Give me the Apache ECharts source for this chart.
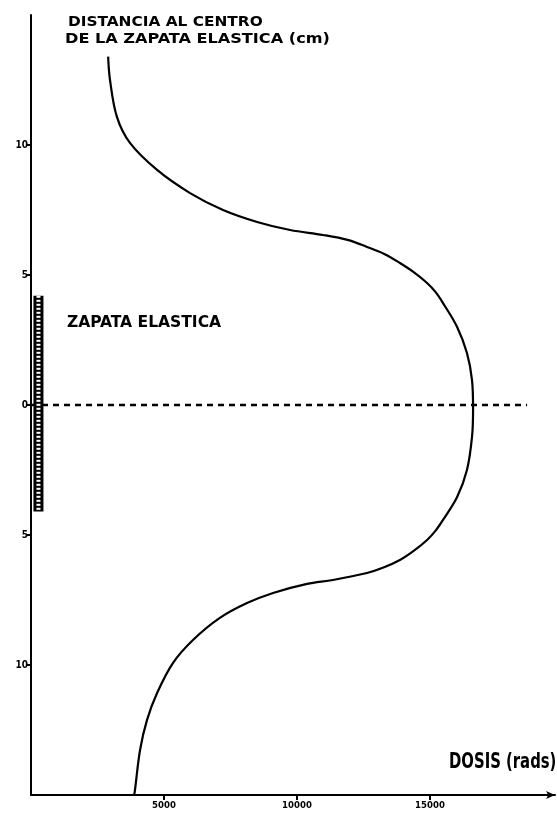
<!DOCTYPE html>
<html>
<head>
<meta charset="utf-8">
<script src="https://cdn.jsdelivr.net/npm/echarts@6/dist/echarts.min.js"></script>
<style>
html,body{margin:0;padding:0;background:#fff;}
#chart{width:557px;height:821px;}
</style>
</head>
<body>
<div id="chart"></div>
<script>
// Dose (rads) vs distance from centre of the elastic pad (cm)
const doseValues = [2900, 2970, 3230, 3720, 4740, 5980, 7220, 8500, 9740, 10980, 11900, 12630, 13300, 13870, 14400, 14890, 15220, 15490, 16020, 16390, 16580, 16620, 16580, 16390, 16020, 15490, 15220, 14890, 14400, 13870, 13250, 12630, 11350, 10380, 9100, 8120, 7100, 6090, 5340, 4740, 4360, 4100, 3910, 3880];
const distanceValues = [13.4, 12.5, 11.08, 10.08, 9.04, 8.15, 7.5, 7.04, 6.73, 6.54, 6.35, 6.08, 5.8, 5.46, 5.1, 4.69, 4.33, 3.92, 3.0, 2.0, 0.96, -0.15, -1.23, -2.5, -3.54, -4.42, -4.82, -5.19, -5.6, -5.96, -6.25, -6.46, -6.73, -6.88, -7.23, -7.62, -8.19, -9.04, -9.92, -11.08, -12.12, -13.27, -14.8, -15];
const padDose = [280, 280];
const padDistance = [4.2, -4.1];
const centerLineDose = [0, 18650];
const centerLineDistance = [0, 0];
const xTicks = [5000, 10000, 15000];
const yTicks = [-10, -5, 0, 5, 10];

const zip = (a, b) => a.map((v, i) => [v, b[i]]);

const chart = echarts.init(document.getElementById('chart'), null, {renderer: 'canvas'});
const labelFont = "'DejaVu Sans Condensed', 'DejaVu Sans', sans-serif";

chart.setOption({
  backgroundColor: '#ffffff',
  animation: false,
  grid: {left: 31, right: 2, top: 15, bottom: 26, containLabel: false},
  xAxis: {
    type: 'value', min: 0, max: 19700,
    splitLine: {show: false},
    axisLine: {show: true, onZero: false, lineStyle: {color: '#000', width: 2}, symbol: ['none', 'arrow'], symbolSize: [6, 9]},
    axisTick: {show: true, inside: false, length: 5, customValues: xTicks, lineStyle: {color: '#000', width: 2}},
    axisLabel: {show: true, customValues: xTicks, margin: 6, color: '#000', fontSize: 9.5, fontWeight: 'bold', fontFamily: labelFont,
      formatter: v => String(v)}
  },
  yAxis: {
    type: 'value', min: -15, max: 15,
    splitLine: {show: false},
    axisLine: {show: true, onZero: false, lineStyle: {color: '#000', width: 2}},
    axisTick: {show: true, inside: false, length: 5, customValues: yTicks, lineStyle: {color: '#000', width: 2}},
    axisLabel: {show: true, customValues: yTicks, margin: 3, color: '#000', fontSize: 10, fontWeight: 'bold', fontFamily: labelFont,
      formatter: v => String(Math.abs(v))}
  },
  series: [
    {type: 'line', data: zip(centerLineDose, centerLineDistance), symbol: 'none', silent: true,
      lineStyle: {color: '#000', width: 2.5, type: [6, 5]}, z: 2},
    {type: 'line', data: zip(padDose, padDistance), symbol: 'none', silent: true,
      lineStyle: {color: '#000', width: 10, cap: 'butt'}, z: 3},
    {type: 'line', data: zip(padDose, padDistance), symbol: 'none', silent: true,
      lineStyle: {color: '#fff', width: 4, cap: 'butt', type: [2, 2]}, z: 4},
    {type: 'line', data: zip(doseValues, distanceValues), symbol: 'none', smooth: 0.35, silent: true,
      lineStyle: {color: '#000', width: 2.2}, z: 5}
  ],
  graphic: [
    {type: 'text', x: 68, y: 15, scaleX: 1.22, style: {text: 'DISTANCIA AL CENTRO', font: "bold 14px " + labelFont, fill: '#000', textAlign: 'left', textVerticalAlign: 'top'}},
    {type: 'text', x: 65, y: 32, scaleX: 1.28, style: {text: 'DE LA ZAPATA ELASTICA (cm)', font: "bold 14px " + labelFont, fill: '#000', textAlign: 'left', textVerticalAlign: 'top'}},
    {type: 'text', x: 67, y: 315, scaleX: 1.08, style: {text: 'ZAPATA ELASTICA', font: "bold 16px " + labelFont, fill: '#000', textAlign: 'left', textVerticalAlign: 'top'}},
    {type: 'text', x: 449, y: 751, scaleX: 0.75, style: {text: 'DOSIS (rads)', font: "bold 22px " + labelFont, fill: '#000', textAlign: 'left', textVerticalAlign: 'top'}}
  ]
});
</script>
</body>
</html>
